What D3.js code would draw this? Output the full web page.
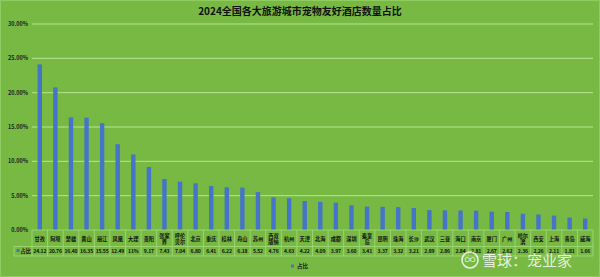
<!DOCTYPE html>
<html lang="zh">
<head>
<meta charset="UTF-8">
<title>2024全国各大旅游城市宠物友好酒店数量占比</title>
<script src="https://d3js.org/d3.v7.min.js"></script>
<style>
  body { margin: 0; padding: 0; background: #fff; }
  svg { display: block; font-family: "Noto Sans CJK SC", "Noto Sans", sans-serif; }
</style>
</head>
<body>
<svg id="chart" width="600" height="277"></svg>
<script>
const cities = ['甘孜','阿坝','楚雄','黄山','丽江','凤凰','大理','贵阳','张家界','呼伦贝尔',
  '北京','重庆','桂林','舟山','苏州','西双版纳','杭州','天津','北海','成都','深圳','秦皇岛',
  '昆明','珠海','长沙','武汉','三亚','海口','南京','厦门','广州','哈尔滨','西安','上海','青岛','威海'];
const shares = [24.12,20.76,16.40,16.35,15.55,12.49,11,9.17,7.43,7.04,6.80,6.41,6.22,6.18,5.52,
  4.76,4.63,4.22,4.09,3.97,3.60,3.41,3.37,3.32,3.21,2.89,2.86,2.84,2.81,2.67,2.62,2.36,2.26,2.11,1.81,1.66];
// table shows some cells as typed in the sheet
const shareLabels = shares.map((v, i) => cities[i] === '大理' ? '11%' : v.toFixed(2));
// wrapped category labels
const wrapped = { '张家界': ['张家','界'], '呼伦贝尔': ['呼伦','贝尔'], '西双版纳': ['西双','版纳'],
  '秦皇岛': ['秦皇','岛'], '哈尔滨': ['哈尔','滨'] };
const yTicks = [0, 5, 10, 15, 20, 25, 30];

const W = 600, H = 277;
const m = { left: 32, right: 593, top: 24, bottom: 230 };
const svg = d3.select('#chart');
const green = '#77b943';
const lineCol = '#a6d97d';

svg.append('rect').attr('width', W).attr('height', H).attr('fill', green);
svg.append('rect').attr('x', 0.5).attr('y', 0.5).attr('width', W - 1).attr('height', H - 1)
  .attr('fill', 'none').attr('stroke', '#8fcb60');

svg.append('text').attr('x', 300).attr('y', 15).attr('text-anchor', 'middle')
  .attr('font-size', 10).attr('font-weight', 'bold').attr('fill', '#111')
  .text('2024全国各大旅游城市宠物友好酒店数量占比');

const x = d3.scaleBand().domain(cities).range([m.left, m.right]);
const y = d3.scaleLinear().domain([0, 30]).range([m.bottom, m.top]);

// grid
svg.append('g').selectAll('line').data(yTicks.slice(1)).join('line')
  .attr('x1', m.left).attr('x2', m.right)
  .attr('y1', d => y(d)).attr('y2', d => y(d))
  .attr('stroke', '#b9e493').attr('stroke-width', 1);

svg.append('g').selectAll('text').data(yTicks).join('text')
  .attr('x', 28).attr('y', d => y(d) + 2)
  .attr('text-anchor', 'end').attr('font-size', 5.5).attr('font-weight', 'bold').attr('fill', '#222')
  .text(d => d.toFixed(2) + '%');

// bars
svg.append('g').selectAll('rect').data(cities).join('rect')
  .attr('x', d => x(d) + x.bandwidth() / 2 - 2.2)
  .attr('width', 4.4)
  .attr('y', (d, i) => y(shares[i]))
  .attr('height', (d, i) => y(0) - y(shares[i]))
  .attr('fill', '#4674c8');

// data table
const r1 = m.bottom, r2 = 246.5, r3 = 256;
const tbl = svg.append('g').attr('stroke', lineCol).attr('stroke-width', 0.8);
tbl.append('line').attr('x1', m.left).attr('x2', m.right).attr('y1', r1).attr('y2', r1);
tbl.append('line').attr('x1', 14).attr('x2', m.right).attr('y1', r2).attr('y2', r2);
tbl.append('line').attr('x1', 14).attr('x2', m.right).attr('y1', r3).attr('y2', r3);
tbl.append('line').attr('x1', 14).attr('x2', 14).attr('y1', r2).attr('y2', r3);
tbl.selectAll('line.v').data(cities.concat(['end'])).join('line').attr('class', 'v')
  .attr('x1', (d, i) => m.left + i * x.step()).attr('x2', (d, i) => m.left + i * x.step())
  .attr('y1', r1).attr('y2', r3);

const catText = svg.append('g').selectAll('text').data(cities).join('text')
  .attr('text-anchor', 'middle').attr('font-size', 5.2).attr('font-weight', 'bold').attr('fill', '#111');
catText.each(function(d) {
  const t = d3.select(this);
  const cx = x(d) + x.bandwidth() / 2;
  const lines = wrapped[d] || [d];
  const y0 = lines.length === 1 ? 240.5 : 237.5;
  lines.forEach((s, k) => t.append('tspan').attr('x', cx).attr('y', y0 + k * 6).text(s));
});

svg.append('g').selectAll('text').data(shareLabels).join('text')
  .attr('x', (d, i) => x(cities[i]) + x.bandwidth() / 2).attr('y', 253.2)
  .attr('text-anchor', 'middle').attr('font-size', 5.1).attr('font-weight', 'bold').attr('fill', '#111')
  .attr('letter-spacing', -0.15)
  .text(d => d);

svg.append('rect').attr('x', 16.5).attr('y', 249).attr('width', 3).attr('height', 3).attr('fill', '#4674c8');
svg.append('text').attr('x', 20.5).attr('y', 253.2).attr('font-size', 5.2).attr('font-weight', 'bold')
  .attr('fill', '#111').text('占比');

// legend
svg.append('rect').attr('x', 291).attr('y', 264.5).attr('width', 3).attr('height', 3).attr('fill', '#4674c8');
svg.append('text').attr('x', 297).attr('y', 268.2).attr('font-size', 5.5).attr('font-weight', 'bold')
  .attr('fill', '#222').text('占比');

// watermark
const wm = svg.append('g').attr('opacity', 0.8);
wm.append('circle').attr('cx', 470).attr('cy', 260).attr('r', 8)
  .attr('fill', 'none').attr('stroke', '#fff').attr('stroke-width', 1.6);
wm.append('text').attr('x', 470).attr('y', 264).attr('text-anchor', 'middle')
  .attr('font-size', 11).attr('fill', '#fff').text('∞');
wm.append('text').attr('x', 482).attr('y', 266).attr('font-size', 15).attr('fill', '#fff')
  .text('雪球：宠业家');
</script>
</body>
</html>
